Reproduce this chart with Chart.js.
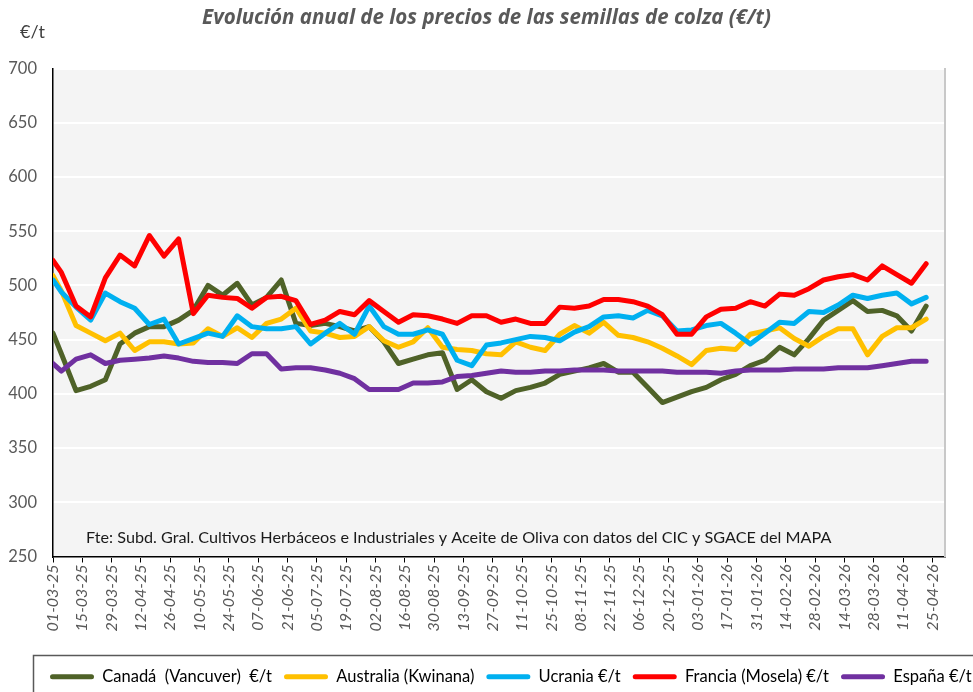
<!DOCTYPE html>
<html lang="es">
<head>
<meta charset="utf-8">
<title>Evolución anual de los precios de las semillas de colza</title>
<script src="https://cdn.jsdelivr.net/npm/chart.js@4.4.1/dist/chart.umd.min.js"></script>
<style>
  html, body { margin: 0; padding: 0; background: #fff; }
  #wrap { width: 973px; height: 692px; }
</style>
</head>
<body>
<div id="wrap"><canvas id="colza" width="973" height="692"></canvas></div>
<script>
// fechas de cotización (dd-mm-aa)
var fechas = ['01-03-25', '05-03-25', '12-03-25', '19-03-25', '26-03-25', '02-04-25', '09-04-25', '16-04-25',
  '23-04-25', '30-04-25', '07-05-25', '14-05-25', '21-05-25', '28-05-25', '04-06-25', '11-06-25', '18-06-25',
  '25-06-25', '02-07-25', '09-07-25', '16-07-25', '23-07-25', '30-07-25', '06-08-25', '13-08-25', '20-08-25',
  '27-08-25', '03-09-25', '10-09-25', '17-09-25', '24-09-25', '01-10-25', '08-10-25', '15-10-25', '22-10-25',
  '29-10-25', '05-11-25', '12-11-25', '19-11-25', '26-11-25', '03-12-25', '10-12-25', '17-12-25', '24-12-25',
  '31-12-25', '07-01-26', '14-01-26', '21-01-26', '28-01-26', '04-02-26', '11-02-26', '18-02-26', '25-02-26',
  '04-03-26', '11-03-26', '18-03-26', '25-03-26', '01-04-26', '08-04-26', '15-04-26', '22-04-26'];

// etiquetas del eje X (cada 14 días)
var tickLabels = ['01-03-25', '15-03-25', '29-03-25', '12-04-25', '26-04-25', '10-05-25', '24-05-25', '07-06-25',
  '21-06-25', '05-07-25', '19-07-25', '02-08-25', '16-08-25', '30-08-25', '13-09-25', '27-09-25', '11-10-25',
  '25-10-25', '08-11-25', '22-11-25', '06-12-25', '20-12-25', '03-01-26', '17-01-26', '31-01-26', '14-02-26',
  '28-02-26', '14-03-26', '28-03-26', '11-04-26', '25-04-26'];

// precios €/t
var canada = [456, 437, 403, 407, 413, 446, 456, 462, 462, 468, 477, 500, 491, 502, 482, 489, 505, 465, 463, 465,
  462, 458, 462, 448, 428, 432, 436, 438, 404, 413, 402, 396, 403, 406, 410, 418, 421, 424, 428, 420,
  420, 406, 392, 397, 402, 406, 413, 418, 426, 431, 443, 436, 451, 468, 477, 486, 476, 477, 472, 458, 481];
var australia = [509, 495, 463, 456, 449, 456, 440, 448, 448, 446, 447, 460, 453, 461, 452, 465, 469, 479, 458, 456,
  452, 453, 462, 449, 443, 448, 461, 443, 441, 440, 437, 436, 448, 443, 440, 455, 463, 456, 466, 454,
  452, 448, 442, 435, 427, 440, 442, 441, 455, 458, 461, 451, 444, 453, 460, 460, 436, 453, 461, 461, 469];
var ucrania = [505, 494, 480, 468, 493, 485, 479, 464, 469, 446, 451, 456, 453, 472, 462, 460, 460, 462, 446, 456,
  465, 455, 481, 462, 455, 455, 459, 455, 431, 426, 445, 447, 450, 453, 452, 449, 457, 462, 471, 472,
  470, 477, 472, 458, 459, 463, 465, 456, 446, 456, 466, 465, 476, 475, 482, 491, 488, 491, 493, 483, 489];
var francia = [523, 512, 481, 471, 507, 528, 518, 546, 527, 543, 474, 491, 489, 488, 479, 489, 490, 486, 464, 468,
  476, 473, 486, 476, 466, 473, 472, 469, 465, 472, 472, 466, 469, 465, 465, 480, 479, 481, 487, 487,
  485, 481, 473, 455, 455, 471, 478, 479, 485, 481, 492, 491, 497, 505, 508, 510, 505, 518, 510, 502, 520];
var espana = [428, 421, 432, 436, 428, 431, 432, 433, 435, 433, 430, 429, 429, 428, 437, 437, 423, 424, 424, 422,
  419, 414, 404, 404, 404, 410, 410, 411, 416, 417, 419, 421, 420, 420, 421, 421, 422, 422, 422, 421,
  421, 421, 421, 420, 420, 420, 419, 421, 422, 422, 422, 423, 423, 423, 424, 424, 424, 426, 428, 430, 430];

var nombres = ['Canadá  (Vancuver)  €/t', 'Australia (Kwinana)', 'Ucrania €/t', 'Francia (Mosela) €/t', 'España €/t'];
var colores = ['#4f6228', '#ffc000', '#00b0f0', '#ff0000', '#7030a0'];

var fuente = 'Fte: Subd. Gral. Cultivos Herbáceos e Industriales y Aceite de Oliva con datos del CIC y SGACE del MAPA';
var letra = 'Lato, "Open Sans", sans-serif';

// días desde el 01-03-25
function dayOf(s) {
  var p = s.split('-');
  return (Date.UTC(2000 + Number(p[2]), Number(p[1]) - 1, Number(p[0])) - Date.UTC(2025, 2, 1)) / 86400000;
}

function serie(valores) {
  return fechas.map(function (f, i) { return { x: dayOf(f), y: valores[i] }; });
}

var todas = [canada, australia, ucrania, francia, espana];
var datasets = todas.map(function (v, i) {
  return {
    label: nombres[i],
    data: serie(v),
    borderColor: colores[i],
    backgroundColor: colores[i],
    borderWidth: 5,
    pointRadius: 0,
    tension: 0,
    borderCapStyle: 'round',
    borderJoinStyle: 'round',
    order: 5 - i   // España encima, como en Excel
  };
});

// fondo gris del área de trazado, unidad, fuente y recuadro de leyenda
var extras = {
  id: 'extras',
  afterLayout: function (chart) {
    // la leyenda de Excel empieza en x=50
    var l = chart.legend, d = 50 - (l.left + 12);
    l.left += d;
    l.right += d;
  },
  beforeDraw: function (chart) {
    var a = chart.chartArea, ctx = chart.ctx;
    ctx.save();
    ctx.fillStyle = '#f4f4f4';
    ctx.fillRect(a.left, a.top, a.right - a.left, a.bottom - a.top);
    ctx.restore();
  },
  afterDraw: function (chart) {
    var a = chart.chartArea, ctx = chart.ctx;
    ctx.save();
    ctx.textBaseline = 'middle';
    ctx.fillStyle = '#404040';
    ctx.font = '18px ' + letra;
    ctx.fillText('€/t', 20, 32);
    ctx.fillStyle = '#1a1a1a';
    ctx.font = '16.2px ' + letra;
    ctx.fillText(fuente, a.left + 33, 538);
    ctx.strokeStyle = '#595959';
    ctx.lineWidth = 1.5;
    ctx.strokeRect(33.5, 655.5, 1000, 100);
    ctx.restore();
  }
};

new Chart(document.getElementById('colza'), {
  type: 'line',
  data: { datasets: datasets },
  options: {
    responsive: false,
    animation: false,
    layout: { padding: { bottom: -3 } },
    plugins: {
      title: {
        display: true,
        text: 'Evolución anual de los precios de las semillas de colza (€/t)',
        color: '#595959',
        font: { family: '"Open Sans", Lato, sans-serif', size: 20.5, style: 'italic', weight: 'bold' },
        padding: { top: 6, bottom: 38 }
      },
      legend: {
        position: 'bottom',
        align: 'start',
        labels: {
          boxWidth: 44,
          boxHeight: 5,
          padding: 12,
          color: '#595959',
          font: { family: letra, size: 16.5 },
          useBorderRadius: true,
          borderRadius: 2.5,
          generateLabels: function (chart) {
            return chart.data.datasets.map(function (ds, i) {
              return { text: ds.label, fillStyle: ds.borderColor, strokeStyle: ds.borderColor,
                lineWidth: 0, hidden: false, datasetIndex: i, borderRadius: 2.5 };
            });
          }
        }
      },
      tooltip: { enabled: false }
    },
    scales: {
      x: {
        type: 'linear',
        min: 0,
        max: 426,
        afterBuildTicks: function (s) {
          s.ticks = tickLabels.map(function (t) { return { value: dayOf(t) }; });
        },
        afterFit: function (s) { s.height = 100; },
        grid: { drawOnChartArea: false, drawTicks: true, tickLength: 6, tickColor: '#000', tickWidth: 1 },
        border: { color: '#000', width: 1.5 },
        ticks: {
          autoSkip: false, minRotation: 90, maxRotation: 90, padding: 2,
          color: '#595959',
          font: { family: letra, size: 16, style: 'italic' },
          callback: function (v, i) { return tickLabels[i]; }
        }
      },
      y: {
        min: 250,
        max: 700,
        afterFit: function (s) { s.width = 53; },
        ticks: { stepSize: 50, padding: 16, color: '#595959', font: { family: letra, size: 16.5 } },
        grid: { color: '#ffffff', lineWidth: 2, drawTicks: false },
        border: { color: '#000', width: 1.5 }
      },
      derecha: {
        position: 'right',
        display: true,
        min: 250,
        max: 700,
        afterFit: function (s) { s.width = 28; },
        ticks: { display: false },
        grid: { display: false, drawTicks: false },
        border: { color: '#c8c8c8', width: 2 }
      }
    }
  },
  plugins: [extras]
});
</script>
</body>
</html>
